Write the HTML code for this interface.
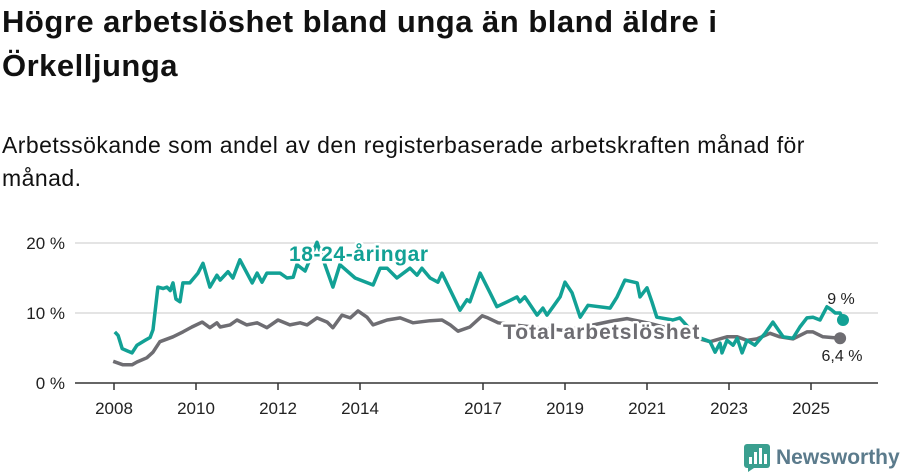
<!DOCTYPE html>
<html><head><meta charset="utf-8">
<style>
html,body{margin:0;padding:0;background:#fff;}
body{width:900px;height:474px;position:relative;overflow:hidden;font-family:"Liberation Sans",sans-serif;color:#111;}
h1{position:absolute;left:2px;top:0px;margin:0;font-size:31px;line-height:44px;font-weight:bold;letter-spacing:0.5px;}
p.sub{position:absolute;left:2px;top:129px;margin:0;font-size:23px;line-height:33px;letter-spacing:0.45px;}
svg{position:absolute;left:0;top:0;}
</style></head>
<body>
<h1>Högre arbetslöshet bland unga än bland äldre i<br>Örkelljunga</h1>
<p class="sub">Arbetssökande som andel av den registerbaserade arbetskraften månad för<br>månad.</p>
<svg id="chart" width="900" height="474"></svg>
<script>
const yTicks=[0,10,20];
const yTickLabels=["0 %","10 %","20 %"];
const xTicks=[2008,2010,2012,2014,2017,2019,2021,2023,2025];
const youthDates=[2008.02,2008.10,2008.20,2008.44,2008.56,2008.76,2008.88,2008.95,2009.07,2009.20,2009.29,2009.37,2009.44,2009.51,2009.61,2009.68,2009.85,2010.05,2010.17,2010.34,2010.51,2010.59,2010.78,2010.90,2011.07,2011.37,2011.49,2011.61,2011.73,2012.05,2012.22,2012.37,2012.46,2012.66,2012.95,2013.34,2013.51,2013.88,2014.32,2014.49,2014.66,2014.90,2015.22,2015.39,2015.51,2015.71,2015.90,2016.00,2016.44,2016.61,2016.68,2016.93,2017.17,2017.34,2017.59,2017.83,2017.90,2018.02,2018.32,2018.46,2018.56,2018.71,2018.88,2019.00,2019.17,2019.37,2019.56,2020.10,2020.27,2020.46,2020.76,2020.83,2021.00,2021.12,2021.24,2021.63,2021.80,2022.22,2022.54,2022.66,2022.78,2022.83,2022.95,2023.10,2023.20,2023.32,2023.44,2023.63,2023.88,2024.07,2024.32,2024.56,2024.73,2024.90,2025.05,2025.22,2025.39,2025.51,2025.59,2025.71,2025.78];
const youthValues=[7.3,6.8,4.9,4.3,5.4,6.1,6.5,7.6,13.7,13.5,13.7,13.2,14.3,12,11.6,14.3,14.3,15.7,17.1,13.7,15.4,14.7,15.9,15.0,17.6,14.3,15.7,14.4,15.7,15.7,15.0,15.1,16.9,16,20.1,13.7,16.9,15,14,16.4,16.4,15,16.4,15.4,16.4,15,14.4,15.7,10.4,11.9,11.6,15.7,12.9,10.9,11.6,12.3,11.6,12.3,9.7,10.7,9.7,10.9,12.3,14.4,12.9,9.4,11.1,10.7,12.3,14.7,14.3,12.3,13.6,11.6,9.4,9,9.3,6.6,5.9,4.4,5.7,4.3,6.1,5.4,6.4,4.3,6.1,5.4,7.1,8.7,6.6,6.4,8,9.3,9.4,9,10.9,10.4,10,10,9];
const totalDates=[2007.98,2008.22,2008.44,2008.56,2008.80,2008.95,2009.12,2009.44,2009.68,2009.90,2010.15,2010.34,2010.51,2010.59,2010.83,2011.00,2011.24,2011.49,2011.73,2012.00,2012.29,2012.54,2012.71,2012.95,2013.20,2013.34,2013.56,2013.76,2013.95,2014.17,2014.32,2014.66,2014.98,2015.29,2015.71,2016.00,2016.20,2016.39,2016.68,2016.98,2017.12,2017.37,2017.90,2018.51,2019.00,2019.61,2020.10,2020.51,2021.07,2021.68,2022.22,2022.54,2022.95,2023.20,2023.44,2023.68,2024.00,2024.24,2024.56,2024.90,2025.05,2025.29,2025.71];
const totalValues=[3.1,2.6,2.6,3.0,3.6,4.4,5.9,6.6,7.3,8.0,8.7,7.9,8.6,8.0,8.3,9.0,8.3,8.6,7.9,9.0,8.3,8.6,8.3,9.3,8.7,7.9,9.7,9.3,10.3,9.4,8.3,9.0,9.3,8.6,8.9,9.0,8.3,7.4,8.0,9.6,9.3,8.6,8.2,7.8,7.5,8.2,8.8,9.2,8.5,7.6,6.4,5.9,6.6,6.6,6.1,6.3,7.1,6.6,6.3,7.3,7.3,6.6,6.4];

const NS="http://www.w3.org/2000/svg";
const svg=document.getElementById('chart');
const x0=114, pxYear=41, y0=383, pxPct=7;
function xs(d){return x0+(d-2008)*pxYear;}
function ys(v){return y0-v*pxPct;}
function mk(tag,attrs){const e=document.createElementNS(NS,tag);for(const k in attrs)e.setAttribute(k,attrs[k]);svg.appendChild(e);return e;}

yTicks.forEach((t,i)=>{
  if(t>0){const g=mk('line',{x1:75,x2:878,y1:ys(t),y2:ys(t),stroke:'#dcdcdc','stroke-width':1.5});
  
  }
  const l=mk('text',{x:65,y:ys(t)+6,'text-anchor':'end','font-size':17,fill:'#222','font-family':'Liberation Sans, sans-serif'});
  l.textContent=yTickLabels[i];
  
  
});
const ax=mk('line',{x1:75,x2:878,y1:y0,y2:y0,stroke:'#333','stroke-width':1.5});


xTicks.forEach(t=>{
  const tk=mk('line',{x1:xs(t),x2:xs(t),y1:y0,y2:y0+7,stroke:'#333','stroke-width':1.5});
  
  
  const l=mk('text',{x:xs(t),y:y0+31,'text-anchor':'middle','font-size':17,fill:'#222','font-family':'Liberation Sans, sans-serif'});
  l.textContent=t;
  
  
});
function pts(ds,vs){return ds.map((d,i)=>xs(d).toFixed(1)+','+ys(vs[i]).toFixed(1)).join(' ');}
const tl=mk('polyline',{points:pts(totalDates,totalValues),fill:'none',stroke:'#6e6d72','stroke-width':3.5,'stroke-linejoin':'round'});


const yl=mk('polyline',{points:pts(youthDates,youthValues),fill:'none',stroke:'#12a195','stroke-width':3.5,'stroke-linejoin':'round'});


const ty=youthDates.length-1, tt=totalDates.length-1;
const yd=mk('circle',{cx:xs(youthDates[ty]),cy:ys(youthValues[ty]),r:6,fill:'#12a195'});


const td=mk('circle',{cx:xs(totalDates[tt]),cy:ys(totalValues[tt]),r:6,fill:'#6e6d72'});



function label(txt,x,y,col,size,bold,name,anchor,ls){
  const t=mk('text',{x:x,y:y,fill:col,'font-size':size,'font-weight':bold?'bold':'normal','font-family':'Liberation Sans, sans-serif',stroke:'#fff','stroke-width':5,'paint-order':'stroke','stroke-linejoin':'round','text-anchor':anchor||'start','letter-spacing':ls||0});
  t.textContent=txt;
  
  
}
label('18-24-åringar',289,261,'#12a195',21,true,'youth-series-label',null,0.6);
label('Total arbetslöshet',503,339,'#6e6d72',21,true,'total-series-label',null,1);
label('9 %',841,304,'#222',16,false,'youth-end-value','middle');
label('6,4 %',842,361,'#222',16,false,'total-end-value','middle');
</script>
<div style="position:absolute;left:744px;top:443px;height:30px;display:flex;align-items:center;">
  <svg width="26" height="28" style="position:static"><rect x="0" y="0" width="26" height="24" rx="3" fill="#3a9f8f"/><polygon points="4,24 10,24 4,28" fill="#3a9f8f"/><rect x="5" y="13" width="3" height="7" fill="#fff"/><rect x="10" y="8" width="3" height="12" fill="#fff"/><rect x="15" y="4" width="3" height="16" fill="#fff"/><rect x="20" y="10" width="3" height="10" fill="#fff"/></svg>
  <span style="margin-left:6px;font-size:21px;font-weight:bold;color:#5b7b8c;">Newsworthy</span>
</div>
</body></html>
